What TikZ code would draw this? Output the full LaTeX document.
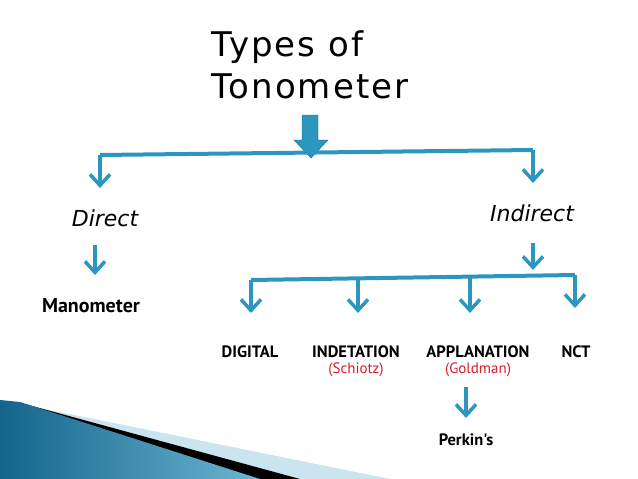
\documentclass[tikz,border=0pt]{standalone}
\usepackage{fontspec}
\setmainfont{DejaVu Sans}
\newfontfamily\labelfont{PT Sans}
\newfontfamily\titlefont[LetterSpace=6]{DejaVu Sans}
\usetikzlibrary{arrows.meta,positioning}
\definecolor{teal1}{RGB}{45,150,190}
\definecolor{deep}{RGB}{20,100,140}
\definecolor{redtxt}{RGB}{215,30,40}
\begin{document}
\begin{tikzpicture}
  [x=1pt,y=-1pt,
  link/.style={draw=teal1,line width=4pt},
  down/.style={link,-{Straight Barb[length=11pt,width=20pt,line width=3.5pt]}},
  kind/.style={font=\fontsize{16.5}{18}\labelfont\bfseries},
  maker/.style={font=\fontsize{15}{17}\labelfont,text=redtxt}]
  \useasboundingbox (0,0) rectangle (638,479);
  % corner decoration
  \fill[teal1!25] (40,408) -- (390,479) -- (270,479) -- cycle;
  \fill[black] (25,404) -- (300,479) -- (250,479) -- cycle;
  \shade[left color=deep,right color=teal1!70] (0,400) -- (20,402) -- (260,479) -- (0,479) -- cycle;

  \node (title) at (310,65) [align=left,font=\fontsize{34}{42}\titlefont] {Types of\\Tonometer};
  \fill[teal1,draw=deep] (302,115) -- (318,115) -- (318,140) -- (328,140)
       -- (311,158) -- (294,140) -- (302,140) -- cycle;

  \node (direct)   at (105,218) [font=\fontsize{22}{24}\selectfont\itshape] {Direct};
  \node (indirect) at (532,213) [font=\fontsize{22}{24}\selectfont\itshape] {Indirect};
  \node (mano)     at (91,306)  [font=\fontsize{20}{22}\labelfont\bfseries] {Manometer};
  \node (digital)  at (250,352) [kind] {DIGITAL};
  \node (indent)   at (356,352) [kind] {INDETATION};
  \node (appl)     at (478,352) [kind] {APPLANATION};
  \node (nct)      at (576,352) [kind] {NCT};
  \node (schiotz)  [below=-2pt of indent,maker] {(Schiotz)};
  \node (goldman)  [below=-2pt of appl,maker] {(Goldman)};
  \node (perkins)  at (466,440) [kind] {Perkin's};

  \coordinate (topL) at (100,155);
  \coordinate (topR) at (533,150);
  \coordinate (midL) at (251,280);
  \coordinate (midR) at (575,275);
  \draw[link] (topL) -- (topR);
  \draw[down] (topL) -- (100,188);
  \draw[down] (topR) -- (533,183);
  \draw[down] (95,245) -- (95,275);
  \draw[down] (533,243) -- (533,270);
  \draw[link] (midL) -- (midR);
  \draw[down] (midL) -- (251,313);
  \draw[down] (358,278) -- (358,313);
  \draw[down] (470,277) -- (470,313);
  \draw[down] (midR) -- (575,308);
  \draw[down] (466,387) -- (466,418);
\end{tikzpicture}
\end{document}
